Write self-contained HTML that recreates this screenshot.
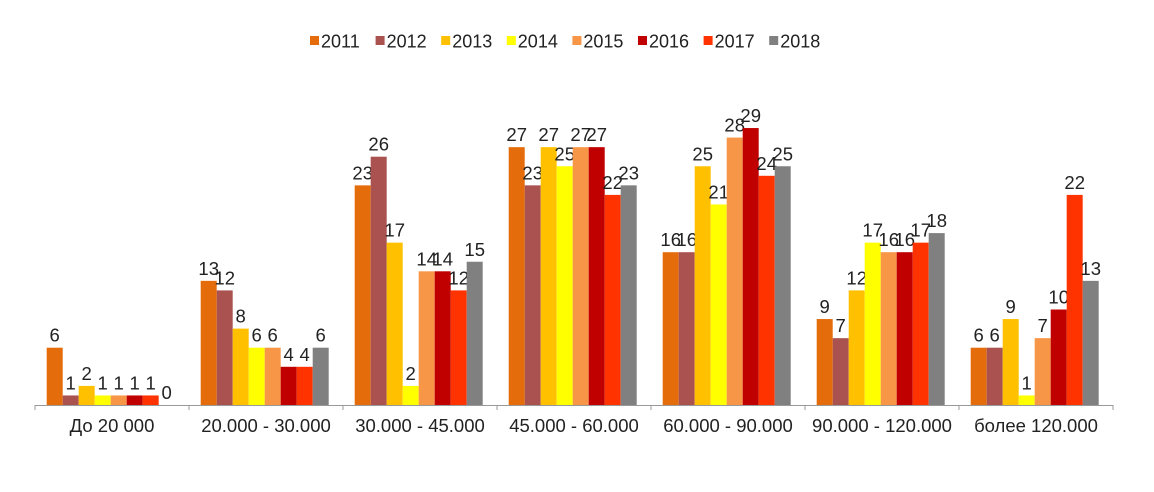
<!DOCTYPE html>
<html><head><meta charset="utf-8"><style>
body{margin:0;background:#fff}
svg{display:block;font-family:"Liberation Sans",sans-serif}
</style></head><body>
<svg id="c" width="1154" height="492"></svg>
<script>
const categories=["До 20 000","20.000 - 30.000","30.000 - 45.000","45.000 - 60.000","60.000 - 90.000","90.000 - 120.000","более 120.000"];
const years=["2011","2012","2013","2014","2015","2016","2017","2018"];
const colors=["#E46C0A","#A9524F","#FFC000","#FFFF00","#F79646","#C00000","#FF3300","#808080"];
const s2011=[6,13,23,27,16,9,6];
const s2012=[1,12,26,23,16,7,6];
const s2013=[2,8,17,27,25,12,9];
const s2014=[1,6,2,25,21,17,1];
const s2015=[1,6,14,27,28,16,7];
const s2016=[1,4,14,27,29,16,10];
const s2017=[1,4,12,22,24,17,22];
const s2018=[0,6,15,23,25,18,13];
const series=[s2011,s2012,s2013,s2014,s2015,s2016,s2017,s2018];
const NS="http://www.w3.org/2000/svg";
const svg=document.getElementById('c');
const x0=35,catW=154,baseY=405,unit=9.55,barW=16,pad=11.7;
const xPos=(ci,si)=>x0+ci*catW+pad+si*barW;
const yPos=v=>baseY-v*unit;
function mk(t,a){const e=document.createElementNS(NS,t);for(const k in a)e.setAttribute(k,a[k]);svg.appendChild(e);return e;}
series.forEach((s,si)=>{s.forEach((v,ci)=>{
 const r=mk('rect',{x:xPos(ci,si),y:yPos(v),width:barW,height:v*unit,fill:colors[si]});
 
 
 const t=mk('text',{x:xPos(ci,si)+barW/2,y:yPos(v)-6,'text-anchor':'middle','font-size':18.5,fill:'#222'});
 t.textContent=v;
 
 
});});
const ax=mk('line',{x1:x0,x2:x0+7*catW,y1:baseY+0.5,y2:baseY+0.5,stroke:'#999','stroke-width':1});


for(let i=0;i<=7;i++){const tk=mk('line',{x1:x0+i*catW,x2:x0+i*catW,y1:baseY,y2:baseY+5,stroke:'#999'});
 
 }
categories.forEach((c,ci)=>{const t=mk('text',{x:x0+ci*catW+catW/2,y:432,'text-anchor':'middle','font-size':18.5,fill:'#222'});
 t.textContent=c;
 
 });
years.forEach((y,i)=>{const lx=310+i*65.6;
 const r=mk('rect',{x:lx,y:36,width:9,height:9,fill:colors[i]});
 
 
 const t=mk('text',{x:lx+11,y:47.5,'font-size':18,fill:'#222'});
 t.textContent=y;
 
 });
</script>
</body></html>
